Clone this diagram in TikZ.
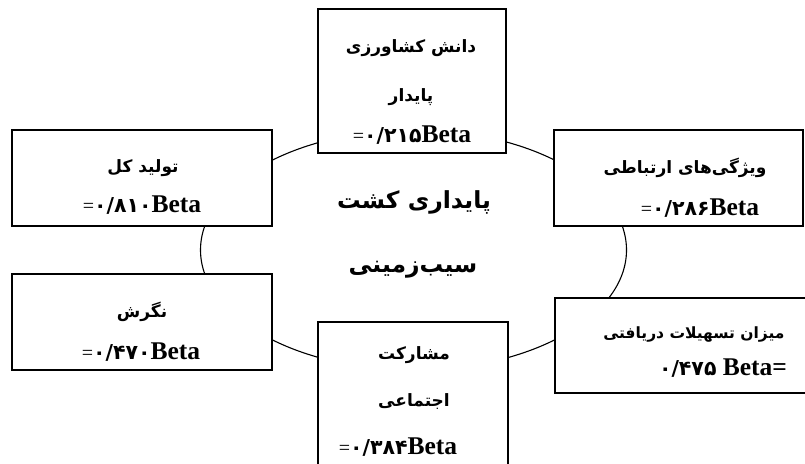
\documentclass[tikz,border=0pt]{standalone}
\usepackage{fontspec}
\setmainfont{Liberation Serif}
\newfontfamily\arfont[Script=Arabic]{DejaVu Sans}
\TeXXeTstate=1
\usetikzlibrary{shapes.geometric}
\tikzset{
  boxst/.style={draw, line width=1.6pt, fill=white, inner sep=0pt},
  corest/.style={draw, ellipse, line width=1.1pt, inner sep=0pt},
  fa/.style={inner sep=0pt, font=\arfont\bfseries\fontsize{17}{20}\selectfont},
  fasmall/.style={inner sep=0pt, font=\arfont\bfseries\fontsize{15.5}{19}\selectfont},
  title/.style={inner sep=0pt, font=\arfont\bfseries\fontsize{23.5}{28}\selectfont},
  bt/.style={inner sep=0pt, font=\fontsize{25.5}{29}\selectfont\bfseries},
}
\newcommand{\dg}[1]{{\arfont\fontsize{20.5}{24}\selectfont #1}}
\newcommand{\eq}{{\mdseries\fontsize{20}{22}\selectfont =}}
\begin{document}
\begin{tikzpicture}[x=1pt,y=-1pt]
\clip (0,0) rectangle (805,463);
\fill[white] (0,0) rectangle (805,463);
% central ellipse
\node (core) [corest, minimum width=426pt, minimum height=240pt] at (413.5,250) {};
% boxes
\node (know) [boxst, minimum width=188pt, minimum height=144pt] at (412,81) {};
\node (prod) [boxst, minimum width=260pt, minimum height=96pt] at (142,178) {};
\node (comm) [boxst, minimum width=249pt, minimum height=96pt] at (678.5,178) {};
\node (att)  [boxst, minimum width=260pt, minimum height=96pt] at (142,322) {};
\node (part) [boxst, minimum width=190pt, minimum height=160pt] at (413,402) {};
\node (fac)  [boxst, minimum width=280pt, minimum height=95pt] at (695,345.5) {};
% texts
\node (knowA) [fa] at (411,48) {\beginR دانش کشاورزی\endR};
\node (knowB) [fa] at (411,97) {\beginR پایدار\endR};
\node (knowC) [bt] at (412,135) {\eq\dg{۰/۲۱۵}Beta};
\node (prodA) [fa] at (143,168) {\beginR تولید کل\endR};
\node (prodB) [bt] at (142,205) {\eq\dg{۰/۸۱۰}Beta};
\node (commA) [fa] at (685,168) {\beginR ویژگی‌های ارتباطی\endR};
\node (commB) [bt] at (700,208) {\eq\dg{۰/۲۸۶}Beta};
\node (attA)  [fa] at (142,312) {\beginR نگرش\endR};
\node (attB)  [bt] at (141,352) {\eq\dg{۰/۴۷۰}Beta};
\node (partA) [fa] at (414,355) {\beginR مشارکت\endR};
\node (partB) [fa] at (414,402) {\beginR اجتماعی\endR};
\node (partC) [bt] at (398,447) {\eq\dg{۰/۳۸۴}Beta};
\node (facA)  [fasmall] at (694,335) {\beginR میزان تسهیلات دریافتی\endR};
\node (facB)  [bt] at (723,368) {\dg{۰/۴۷۵} Beta=};
\node (coreA) [title] at (414,202) {\beginR پایداری کشت\endR};
\node (coreB) [title] at (413,270) {\beginR سیب‌زمینی\endR};
\end{tikzpicture}
\end{document}
